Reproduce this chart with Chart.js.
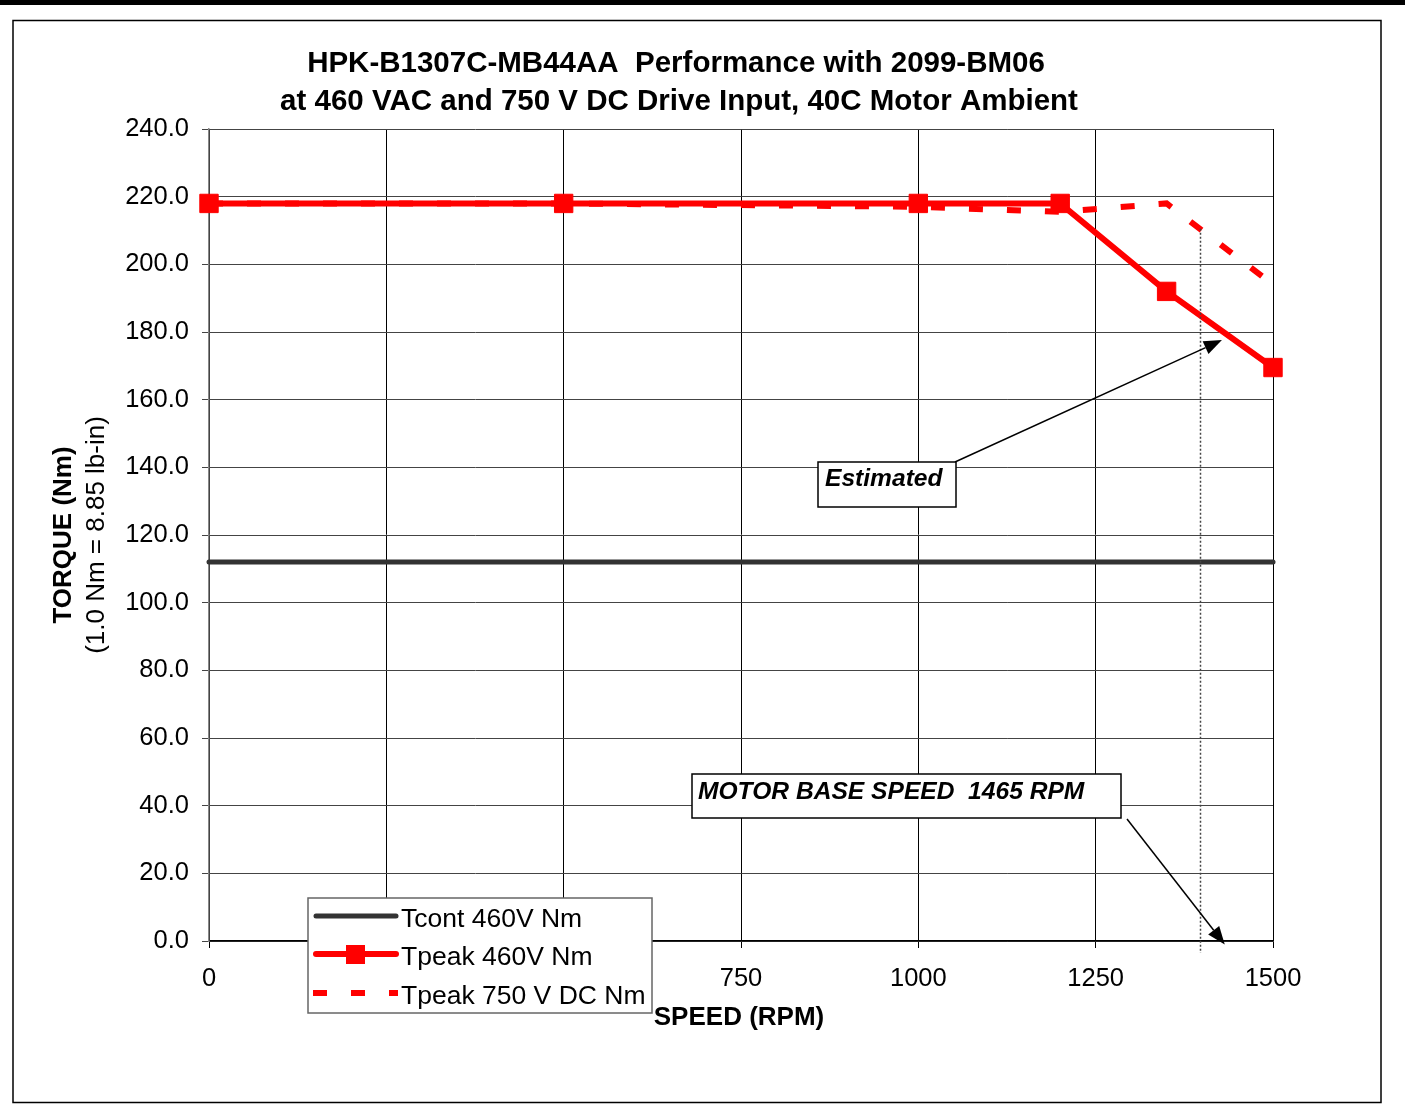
<!DOCTYPE html>
<html>
<head>
<meta charset="utf-8">
<script src="https://cdn.jsdelivr.net/npm/chart.js@4"></script>
<style>
  body { margin: 0; background: #fff; }
  #wrap { width: 1405px; height: 1104px; }
</style>
</head>
<body>
<div id="wrap"><canvas id="myChart" width="1405" height="1104"></canvas></div>
<script>
// chart values
var speedRpm = [0, 500, 1000, 1200, 1350, 1500];
var tcont460 = [112, 112, 112, 112, 112, 112];
var tpeak460 = [218, 218, 218, 218, 192, 169.5];
var tpeak750dc = [218, 218, 217, 215.5, 218, 194];
var seriesNames = ['Tcont 460V Nm', 'Tpeak 460V Nm', 'Tpeak 750 V DC Nm'];
var titleLines = ['HPK-B1307C-MB44AA  Performance with 2099-BM06',
                  'at 460 VAC and 750 V DC Drive Input, 40C Motor Ambient'];
var baseSpeedMark = 1397;

var FONT = '"Liberation Sans", Arial, sans-serif';

function pts(ys) {
  return speedRpm.map(function (x, i) { return { x: x, y: ys[i] }; });
}

function arrow(ctx, x1, y1, x2, y2) {
  var a = Math.atan2(y2 - y1, x2 - x1), len = 18, w = 7;
  ctx.beginPath();
  ctx.moveTo(x1, y1);
  ctx.lineTo(x2 - Math.cos(a) * len, y2 - Math.sin(a) * len);
  ctx.stroke();
  ctx.beginPath();
  ctx.moveTo(x2, y2);
  ctx.lineTo(x2 - Math.cos(a) * len - Math.sin(a) * w, y2 - Math.sin(a) * len + Math.cos(a) * w);
  ctx.lineTo(x2 - Math.cos(a) * len + Math.sin(a) * w, y2 - Math.sin(a) * len - Math.cos(a) * w);
  ctx.closePath();
  ctx.fill();
}

var decor = {
  id: 'decor',
  beforeDraw: function (chart) {
    var ctx = chart.ctx;
    ctx.save();
    ctx.fillStyle = '#fff';
    ctx.fillRect(0, 0, chart.width, chart.height);
    ctx.fillStyle = '#000';
    ctx.fillRect(0, 0, chart.width, 5);
    ctx.strokeStyle = '#000';
    ctx.lineWidth = 1.5;
    ctx.strokeRect(13, 20.5, 1368, 1082);
    ctx.restore();
  },
  afterDatasetsDraw: function (chart) {
    var ctx = chart.ctx, xs = chart.scales.x, ys = chart.scales.y;
    ctx.save();
    // base speed dotted marker
    var px = Math.round(xs.getPixelForValue(baseSpeedMark)) + 0.5;
    ctx.strokeStyle = '#444';
    ctx.lineWidth = 1.5;
    ctx.setLineDash([2, 2]);
    ctx.beginPath();
    ctx.moveTo(px, ys.getPixelForValue(210.5));
    ctx.lineTo(px, ys.bottom + 12);
    ctx.stroke();
    ctx.setLineDash([]);

    // annotations
    ctx.strokeStyle = '#000';
    ctx.fillStyle = '#000';
    ctx.lineWidth = 1.5;
    arrow(ctx, 955, 462, xs.getPixelForValue(1428), ys.getPixelForValue(177.6));
    arrow(ctx, 1127, 819, xs.getPixelForValue(1432), ys.getPixelForValue(-1));

    ctx.fillStyle = '#fff';
    ctx.fillRect(818, 462, 138, 45);
    ctx.strokeRect(818, 462, 138, 45);
    ctx.fillRect(692, 774, 429, 44);
    ctx.strokeRect(692, 774, 429, 44);
    ctx.fillStyle = '#000';
    ctx.font = 'italic bold 24.6px ' + FONT;
    ctx.textBaseline = 'middle';
    ctx.textAlign = 'left';
    ctx.fillText('Estimated', 825, 479);
    ctx.fillText('MOTOR BASE SPEED  1465 RPM', 698, 792);
    ctx.restore();
  },
  afterDraw: function (chart) {
    var ctx = chart.ctx, ds = chart.data.datasets;
    ctx.save();
    ctx.fillStyle = '#000';
    ctx.textAlign = 'center';
    ctx.textBaseline = 'middle';
    ctx.font = 'bold 29.5px ' + FONT;
    ctx.fillText(titleLines[0], 676, 64);
    ctx.fillText(titleLines[1], 679, 102);

    ctx.font = 'bold 26px ' + FONT;
    ctx.fillText('SPEED (RPM)', 739, 1018);

    ctx.save();
    ctx.translate(64, 535);
    ctx.rotate(-Math.PI / 2);
    ctx.fillText('TORQUE (Nm)', 0, 0);
    ctx.restore();
    ctx.save();
    ctx.translate(97, 535);
    ctx.rotate(-Math.PI / 2);
    ctx.font = '26px ' + FONT;
    ctx.fillText('(1.0 Nm = 8.85 lb-in)', 0, 0);
    ctx.restore();

    // legend box
    ctx.fillStyle = '#fff';
    ctx.fillRect(308, 898, 344, 115);
    ctx.strokeStyle = '#666';
    ctx.lineWidth = 1.5;
    ctx.strokeRect(308, 898, 344, 115);
    var rowY = [916, 954, 993];
    ds.forEach(function (d, i) {
      var y = rowY[i];
      ctx.save();
      ctx.strokeStyle = d.borderColor;
      ctx.lineWidth = d.borderWidth;
      ctx.lineCap = d.borderCapStyle || 'butt';
      ctx.setLineDash(d.borderDash || []);
      ctx.beginPath();
      ctx.moveTo(d.borderDash ? 313 : 316, y);
      ctx.lineTo(d.borderDash ? 398 : 396, y);
      ctx.stroke();
      if (d.pointRadius > 0) {
        ctx.fillStyle = d.pointBackgroundColor;
        ctx.fillRect(346, y - 9, 19, 19);
      }
      ctx.restore();
      ctx.fillStyle = '#000';
      ctx.textAlign = 'left';
      ctx.font = '26.5px ' + FONT;
      ctx.fillText(d.label, 401, y + 4);
    });
    ctx.restore();
  }
};

var ctx = document.getElementById('myChart').getContext('2d');
var myChart = new Chart(ctx, {
  type: 'line',
  data: {
    datasets: [{
      label: seriesNames[0],
      data: pts(tcont460),
      borderColor: '#333333',
      borderWidth: 5,
      borderCapStyle: 'round',
      pointRadius: 0,
      clip: false
    }, {
      label: seriesNames[1],
      data: pts(tpeak460),
      borderColor: '#ff0000',
      borderWidth: 6,
      borderCapStyle: 'round',
      pointStyle: 'rect',
      pointRadius: 13,
      pointBorderWidth: 1,
      pointBackgroundColor: '#ff0000',
      pointBorderColor: '#ff0000',
      clip: false
    }, {
      label: seriesNames[2],
      data: pts(tpeak750dc),
      borderColor: '#ff0000',
      borderWidth: 6,
      borderDash: [14, 24],
      pointRadius: 0,
      clip: false
    }]
  },
  options: {
    responsive: false,
    animation: false,
    devicePixelRatio: 1,
    layout: { padding: { top: 129, left: 0, right: 132, bottom: 0 } },
    plugins: {
      legend: { display: false },
      title: { display: false },
      tooltip: { enabled: false }
    },
    elements: { line: { tension: 0 } },
    scales: {
      x: {
        type: 'linear',
        min: 0,
        max: 1500,
        afterFit: function (s) { s.height = 163; },
        ticks: {
          stepSize: 250,
          color: '#000',
          padding: 16,
          font: { family: FONT, size: 25.5 },
          maxRotation: 0,
          callback: function (v) { return String(v); }
        },
        grid: { color: '#000', lineWidth: 1, tickLength: 7, tickColor: '#000' },
        border: { color: '#000', width: 1.5 }
      },
      y: {
        min: 0,
        max: 240,
        afterFit: function (s) { s.width = 209; },
        ticks: {
          stepSize: 20,
          color: '#000',
          padding: 13,
          font: { family: FONT, size: 25.5 },
          callback: function (v) { return v.toFixed(1); }
        },
        grid: { color: '#444', lineWidth: 1, tickLength: 7, tickColor: '#444' },
        border: { color: '#888', width: 1.5 }
      }
    }
  },
  plugins: [decor]
});
</script>
</body>
</html>
